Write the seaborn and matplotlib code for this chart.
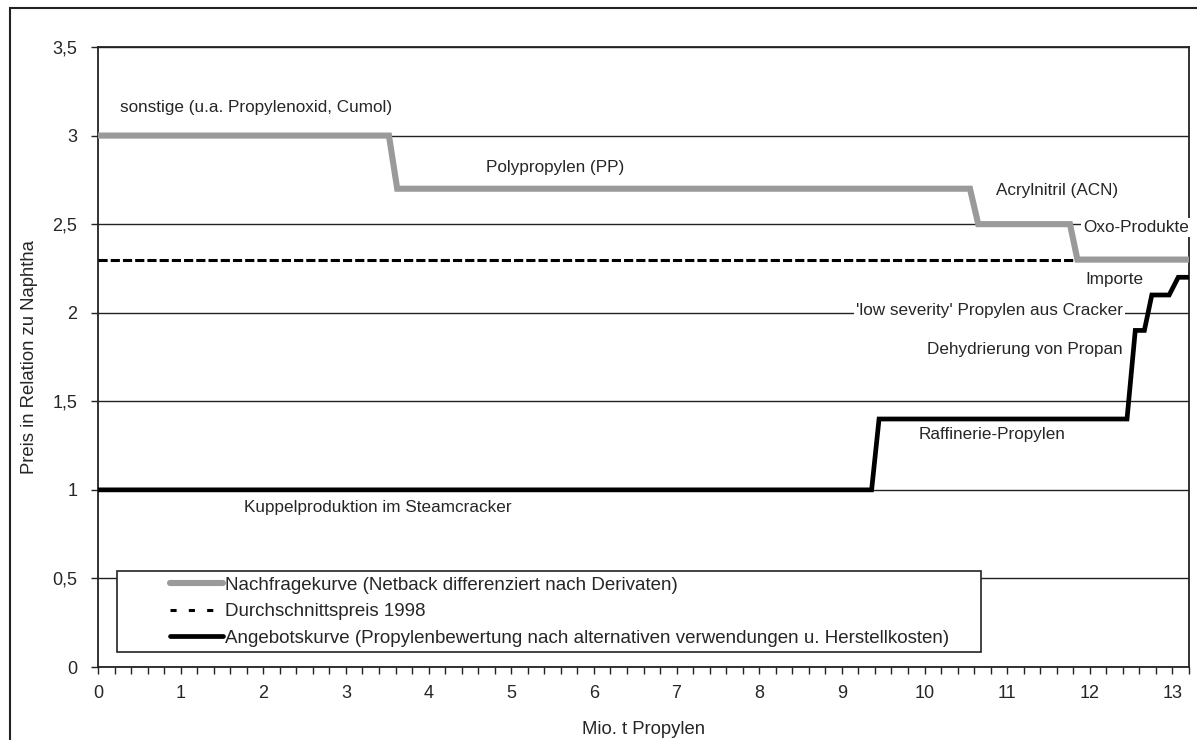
import matplotlib
matplotlib.use("Agg")
import matplotlib.pyplot as plt
import matplotlib.ticker as mticker
from matplotlib.patches import Rectangle
import seaborn as sns
import pandas as pd

# Nachfragekurve (Netback nach Derivaten)
demand_x = [0.0, 3.52, 3.62, 10.55, 10.65, 11.76, 11.85, 13.2]
demand_y = [3.0, 3.0, 2.7, 2.7, 2.5, 2.5, 2.3, 2.3]

# Durchschnittspreis 1998
avg_x = [0.0, 13.2]
avg_y = [2.3, 2.3]

# Angebotskurve
supply_x = [0.0, 9.36, 9.45, 12.45, 12.55, 12.66, 12.75, 12.96, 13.07, 13.2]
supply_y = [1.0, 1.0, 1.4, 1.4, 1.9, 1.9, 2.1, 2.1, 2.2, 2.2]

series_labels = [
    "Nachfragekurve (Netback differenziert nach Derivaten)",
    "Durchschnittspreis 1998",
    "Angebotskurve (Propylenbewertung nach alternativen verwendungen u. Herstellkosten)",
]

annotations = [
    ("sonstige (u.a. Propylenoxid, Cumol)", 0.27, 3.16, "left", False),
    ("Polypropylen (PP)", 4.69, 2.82, "left", False),
    ("Acrylnitril (ACN)", 10.87, 2.69, "left", False),
    ("Oxo-Produkte", 11.92, 2.48, "left", True),
    ("Importe", 11.95, 2.19, "left", False),
    ("'low severity' Propylen aus Cracker", 12.40, 2.01, "right", True),
    ("Dehydrierung von Propan", 12.40, 1.79, "right", False),
    ("Raffinerie-Propylen", 9.93, 1.31, "left", False),
    ("Kuppelproduktion im Steamcracker", 1.77, 0.90, "left", False),
]

sns.set_theme(style="white")
plt.rcParams["font.family"] = ["Liberation Sans", "DejaVu Sans"]
FS = 12.3

fig = plt.figure(figsize=(11.97, 7.40), dpi=100)
ax = fig.add_axes([98 / 1197, (740 - 667) / 740, 1091 / 1197, 620 / 740])

df_d = pd.DataFrame({"x": demand_x, "y": demand_y})
df_a = pd.DataFrame({"x": avg_x, "y": avg_y})
df_s = pd.DataFrame({"x": supply_x, "y": supply_y})

sns.lineplot(data=df_d, x="x", y="y", sort=False, estimator=None, ax=ax,
             color="#9a9a9a", linewidth=4.4, label=series_labels[0], zorder=4,
             solid_joinstyle="miter")
sns.lineplot(data=df_a, x="x", y="y", sort=False, estimator=None, ax=ax,
             color="black", linewidth=2.2, dashes=False, linestyle=(0, (3, 1)),
             label=series_labels[1], zorder=3)
sns.lineplot(data=df_s, x="x", y="y", sort=False, estimator=None, ax=ax,
             color="black", linewidth=3.4, label=series_labels[2], zorder=5,
             solid_joinstyle="miter")

ax.set_xlim(0, 13.2)
ax.set_ylim(0, 3.5)
ax.xaxis.set_major_locator(mticker.MultipleLocator(1))
ax.xaxis.set_minor_locator(mticker.MultipleLocator(0.2))
ax.yaxis.set_major_locator(mticker.MultipleLocator(0.5))
ax.yaxis.set_major_formatter(mticker.FuncFormatter(
    lambda v, p: (f"{v:g}").replace(".", ",")))

ax.grid(axis="y", color="#222222", linewidth=1.0)
ax.grid(axis="x", visible=False)
ax.set_axisbelow(True)
for s in ax.spines.values():
    s.set_color("#222222")
    s.set_linewidth(1.3)

ax.tick_params(axis="both", which="both", direction="out", color="#222222",
               labelsize=FS + 0.7)
ax.tick_params(axis="x", which="both", length=5, width=1, bottom=True, pad=8)
ax.tick_params(axis="y", which="major", length=5, width=1, left=True, pad=10)

ax.set_xlabel("Mio. t Propylen", fontsize=FS + 1.0, labelpad=14)
ax.set_ylabel("Preis in Relation zu Naphtha", fontsize=FS + 1.0, labelpad=10)

for txt, x, y, ha, boxed in annotations:
    kw = {}
    if boxed:
        kw["bbox"] = dict(facecolor="white", edgecolor="none", pad=1.5)
    ax.text(x, y, txt, ha=ha, va="center", fontsize=FS, zorder=6,
            clip_on=False, **kw)

# legend frame drawn as a plain rectangle in axes coordinates
lx0, ly0 = (117 - 98) / 1091, (667 - 652) / 620
lw, lh = (981 - 117) / 1091, (652 - 571) / 620
ax.add_patch(Rectangle((lx0, ly0), lw, lh, transform=ax.transAxes,
                       facecolor="white", edgecolor="#222222", linewidth=1.2,
                       zorder=2.6))
leg = ax.legend(loc="center left", bbox_to_anchor=((170 - 98) / 1091, ly0 + lh / 2),
                frameon=False, fontsize=FS + 1.2, handlelength=2.8,
                handletextpad=0.15, labelspacing=0.5, borderpad=0,
                borderaxespad=0)
leg.set_zorder(7)
# sparser dashes for the legend sample of the average price
leg.get_lines()[1].set_linestyle((0, (2, 4)))

# outer chart border
fig.add_artist(Rectangle((10 / 1197, -0.1), 1.2, (740 - 8) / 740 + 0.1,
                         transform=fig.transFigure, facecolor="none",
                         edgecolor="#222222", linewidth=1.5))

fig.savefig("out.png", dpi=100)
